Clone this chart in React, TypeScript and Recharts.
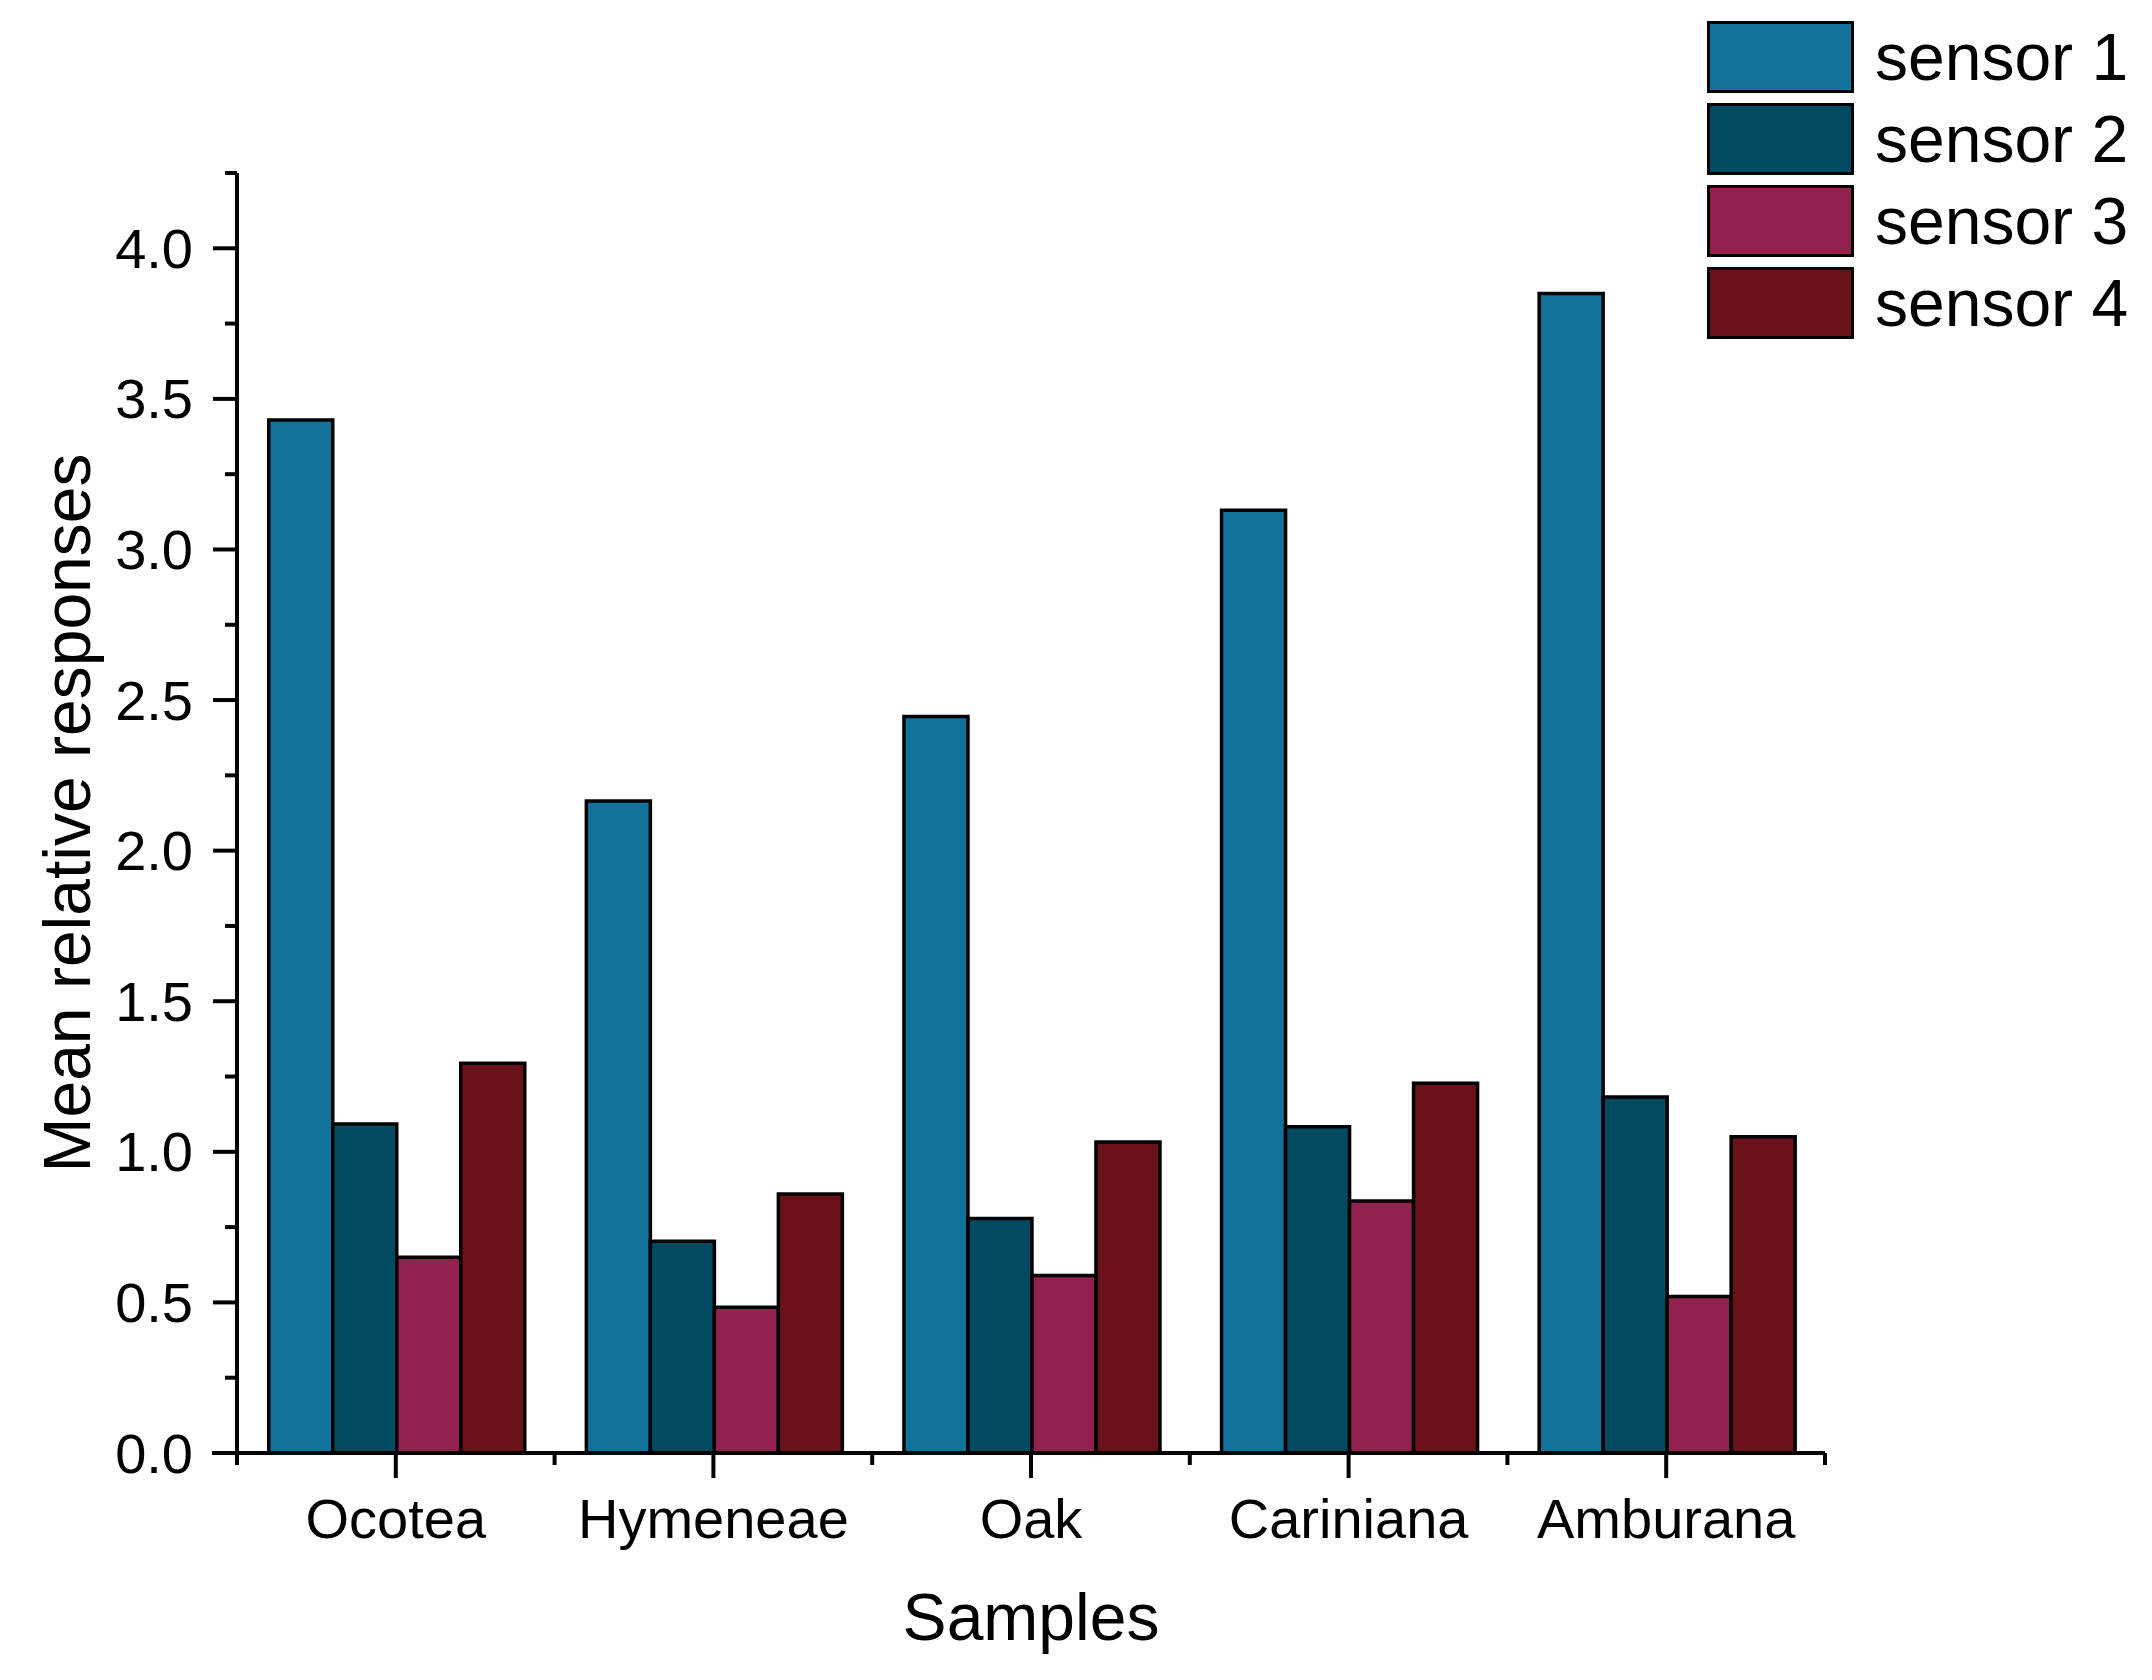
import React from 'react';
import { BarChart, Bar, XAxis, YAxis, Legend } from 'recharts';

// chart data
const samples = ['Ocotea', 'Hymeneae', 'Oak', 'Cariniana', 'Amburana'];
const sensor1 = [3.43, 2.165, 2.445, 3.13, 3.85];
const sensor2 = [1.092, 0.703, 0.779, 1.083, 1.182];
const sensor3 = [0.65, 0.484, 0.589, 0.837, 0.52];
const sensor4 = [1.294, 0.86, 1.033, 1.228, 1.05];
const yTicks = [0, 0.25, 0.5, 0.75, 1, 1.25, 1.5, 1.75, 2, 2.25, 2.5, 2.75, 3, 3.25, 3.5, 3.75, 4, 4.25];

const series = [
  { key: 'sensor1', name: 'sensor 1', color: '#11739B' },
  { key: 'sensor2', name: 'sensor 2', color: '#024A62' },
  { key: 'sensor3', name: 'sensor 3', color: '#93214F' },
  { key: 'sensor4', name: 'sensor 4', color: '#6A111A' },
];

const data = samples.map((name, i) => ({
  name,
  sensor1: sensor1[i],
  sensor2: sensor2[i],
  sensor3: sensor3[i],
  sensor4: sensor4[i],
}));

const W = 2152;
const H = 1680;
const LEFT = 237;
const RIGHT = 1825;
const TOP = 173;
const BOTTOM = 1453;
const BAND = (RIGHT - LEFT) / samples.length;
const MID_Y = (TOP + BOTTOM) / 2;
const FONT = '"Liberation Sans", Arial, sans-serif';

const YTick = (props: any) => {
  const { x, y, payload } = props;
  const v = payload.value;
  const major = Math.abs(v * 2 - Math.round(v * 2)) < 1e-6;
  return (
    <g>
      <line x1={x - (major ? 24 : 12)} x2={x} y1={y} y2={y} stroke="#000" strokeWidth={4} />
      {major && (
        <text x={x - 44} y={y} textAnchor="end" dominantBaseline="central" fontSize={56} fontFamily={FONT} fill="#000">
          {v.toFixed(1)}
        </text>
      )}
    </g>
  );
};

const XTick = (props: any) => {
  const { x, y, payload, index } = props;
  const half = BAND / 2;
  return (
    <g stroke="#000" strokeWidth={4}>
      <line x1={x} x2={x} y1={y} y2={y + 25} />
      <line x1={x - half} x2={x - half} y1={y} y2={y + 12} />
      {index === samples.length - 1 && <line x1={x + half} x2={x + half} y1={y} y2={y + 12} />}
      {index === 0 && <line x1={x - half - 25} x2={x - half} y1={y} y2={y} />}
      <text x={x} y={y + 85} textAnchor="middle" fontSize={56} fontFamily={FONT} fill="#000" stroke="none">
        {payload.value}
      </text>
    </g>
  );
};

const LegendBox = (props: any) => {
  const items = props.payload || [];
  return (
    <div style={{ fontFamily: FONT }}>
      {items.map((entry: any, i: number) => (
        <div key={i} style={{ display: 'flex', alignItems: 'center', height: 72, marginBottom: 10 }}>
          <div
            style={{
              width: 147,
              height: 72,
              boxSizing: 'border-box',
              border: '3px solid #000',
              background: entry.color,
            }}
          />
          <span style={{ marginLeft: 21, fontSize: 66, lineHeight: '72px', color: '#000', whiteSpace: 'nowrap' }}>
            {entry.value}
          </span>
        </div>
      ))}
    </div>
  );
};

const xTitle = () => (
  <text x={(LEFT + RIGHT) / 2} y={1640} textAnchor="middle" fontSize={66} fontFamily={FONT} fill="#000">
    Samples
  </text>
);

const yTitle = () => (
  <text
    x={90}
    y={MID_Y}
    transform={`rotate(-90 90 ${MID_Y})`}
    textAnchor="middle"
    fontSize={66}
    fontFamily={FONT}
    fill="#000"
  >
    Mean relative responses
  </text>
);

export default function App() {
  return (
    <div style={{ width: W, height: H, background: '#fff' }}>
      <style>{'body{margin:0;background:#fff}'}</style>
      <BarChart
        width={W}
        height={H}
        data={data}
        margin={{ top: TOP, right: W - RIGHT, bottom: 0, left: 0 }}
        barCategoryGap="10%"
        barGap={0}
      >
        <XAxis
          dataKey="name"
          height={H - BOTTOM}
          axisLine={{ stroke: '#000', strokeWidth: 4 }}
          tickLine={false}
          tickSize={0}
          tickMargin={0}
          tick={<XTick />}
          interval={0}
          label={{ value: 'Samples', content: xTitle }}
        />
        <YAxis
          width={LEFT}
          domain={[0, 4.25]}
          ticks={yTicks}
          interval={0}
          axisLine={{ stroke: '#000', strokeWidth: 4 }}
          tickLine={false}
          tickSize={0}
          tickMargin={0}
          tick={<YTick />}
          label={{ value: 'Mean relative responses', content: yTitle }}
        />
        <Legend
          layout="vertical"
          align="center"
          verticalAlign="middle"
          content={<LegendBox />}
          wrapperStyle={{ position: 'absolute', left: 1707, top: 21, width: 'auto', height: 'auto' }}
        />
        {series.map((s) => (
          <Bar
            key={s.key}
            dataKey={s.key}
            name={s.name}
            fill={s.color}
            stroke="#000"
            strokeWidth={3.5}
            isAnimationActive={false}
          />
        ))}
      </BarChart>
    </div>
  );
}
